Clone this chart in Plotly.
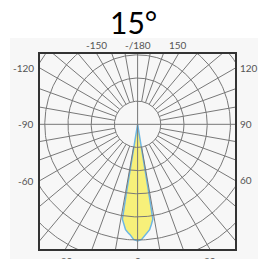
import numpy as np
import plotly.graph_objects as go

# ---- data (relative intensity, ring step = 1) ----
beam_angles = [-10, -9.6, -9.4, -9.25, -9.1, -7.8, -6.5, -5, -3.9, -2, 0,
               2, 3.9, 5, 6.5, 7.8, 9.1, 9.25, 9.4, 9.6, 10]
beam_values = [0, 0.3, 1.5, 3.0, 4.15, 4.37, 4.58, 4.7, 4.78, 4.98, 5.04,
               4.98, 4.78, 4.7, 4.58, 4.37, 4.15, 3.0, 1.5, 0.3, 0]
label_angles = [-150, 180, 150, -120, -90, -60, 120, 90, 60, -30, 0, 30]
label_texts = ["-150", "-/180", "150", "-120", "-90", "-60", "120", "90", "60", "-30", "0", "30"]
title_text = "15°"

U = 23.2  # px per ring
XR = [-97.6 / U, 97.4 / U]
YR = [-125.0 / U, 70.5 / U]


def to_xy(theta_deg, r):
    t = np.radians(np.asarray(theta_deg, dtype=float))
    r = np.asarray(r, dtype=float)
    return r * np.sin(t), -r * np.cos(t)


fig = go.Figure()

# beam
bx, by = to_xy(beam_angles, beam_values)
fig.add_trace(go.Scatter(x=bx, y=by, mode="lines", fill="toself",
                         fillcolor="#f7f07a", line=dict(color="#6db7e3", width=1.5),
                         hoverinfo="skip", showlegend=False))

# grid: circles
gx, gy = [], []
phi = np.linspace(0, 2 * np.pi, 361)
for k in range(1, 9):
    gx += list(k * np.cos(phi)) + [None]
    gy += list(k * np.sin(phi)) + [None]
# radial lines
for a in range(0, 360, 10):
    r0 = 0 if a % 90 == 0 else 1
    x0, y0 = to_xy(a, r0)
    x1, y1 = to_xy(a, 9)
    gx += [float(x0), float(x1), None]
    gy += [float(y0), float(y1), None]
fig.add_trace(go.Scatter(x=gx, y=gy, mode="lines",
                         line=dict(color="#787878", width=1),
                         hoverinfo="skip", showlegend=False))

# labels
for a, txt in zip(label_angles, label_texts):
    sx, sy = np.sin(np.radians(a)), -np.cos(np.radians(a))
    ts = []
    if sx > 1e-9: ts.append((XR[1] / sx, "r"))
    if sx < -1e-9: ts.append((XR[0] / sx, "l"))
    if sy > 1e-9: ts.append((YR[1] / sy, "t"))
    if sy < -1e-9: ts.append((YR[0] / sy, "b"))
    t, side = min(ts)
    x, y = t * sx, t * sy
    kw = dict(x=x, y=y, text=txt, showarrow=False,
              font=dict(family="Lato, Open Sans, sans-serif", size=10, color="#555555"))
    if side == "t":
        kw.update(yanchor="bottom", xanchor="center", yshift=1)
    elif side == "b":
        kw.update(yanchor="top", xanchor="center", yshift=-4)
    elif side == "l":
        kw.update(xanchor="right", yanchor="middle", xshift=-4)
    else:
        kw.update(xanchor="left", yanchor="middle", xshift=3)
    fig.add_annotation(**kw)

fig.add_annotation(x=0.482, y=1.164, xref="paper", yref="paper", text=title_text,
                   showarrow=False, xanchor="center", yanchor="middle",
                   font=dict(family="Lato, Open Sans, sans-serif", size=30, color="#000000"))

fig.add_shape(type="rect", xref="paper", yref="paper", x0=-0.154, x1=1.118,
              y0=-0.06, y1=1.082, fillcolor="#f7f7f7", line=dict(width=0), layer="below")

fig.update_xaxes(range=XR, showgrid=False, zeroline=False, showticklabels=False,
                 showline=True, mirror=True, linecolor="#333333", linewidth=1.5, ticks="")
fig.update_yaxes(range=YR, showgrid=False, zeroline=False, showticklabels=False,
                 showline=True, mirror=True, linecolor="#333333", linewidth=1.5, ticks="")
fig.update_layout(width=260, height=251, margin=dict(l=32, r=33, t=46, b=10),
                  paper_bgcolor="white", plot_bgcolor="white", showlegend=False)

fig.write_html("out.html")
